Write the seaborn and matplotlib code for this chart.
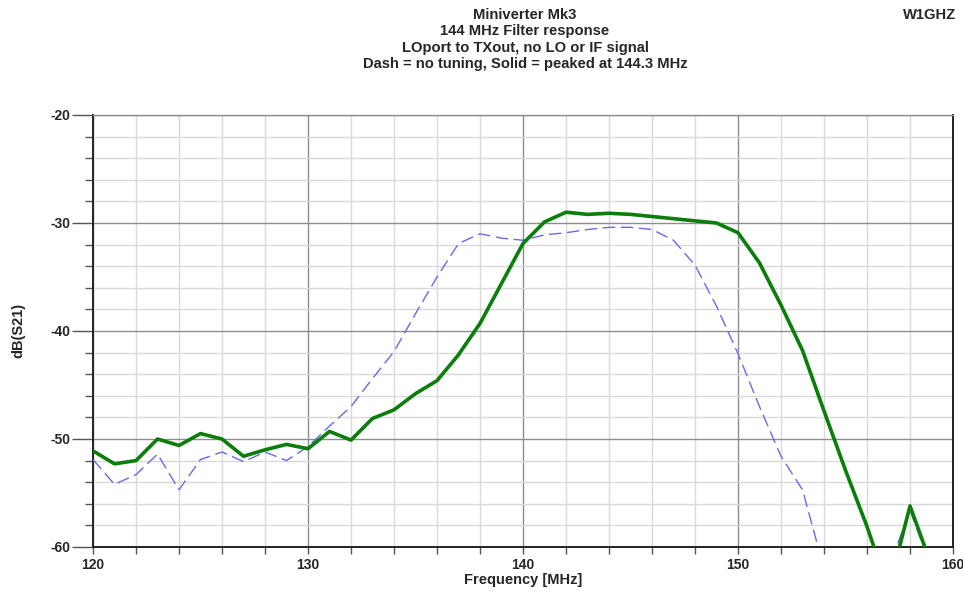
import matplotlib
matplotlib.use("Agg")
import matplotlib.pyplot as plt
from matplotlib.ticker import MultipleLocator
import numpy as np
import pandas as pd
import seaborn as sns

# ---- data ----
freq_mhz = list(range(120, 161))
peaked_db = [-51.1, -52.3, -52.0, -50.0, -50.6, -49.5, -50.0, -51.6, -51.0, -50.5,
             -50.9, -49.3, -50.1, -48.1, -47.3, -45.8, -44.6, -42.2, -39.3, -35.6,
             -31.9, -29.9, -29.0, -29.2, -29.1, -29.2, -29.4, -29.6, -29.8, -30.0,
             -30.9, -33.7, -37.6, -41.8, -47.4, -52.9, -58.1, -64.0, -56.2, -61.7,
             -63.0]
untuned_db = [-51.9, -54.2, -53.3, -51.4, -54.7, -51.9, -51.2, -52.1, -51.2, -52.0,
              -50.7, -48.8, -47.0, -44.4, -41.9, -38.4, -35.0, -31.9, -31.0, -31.4,
              -31.6, -31.1, -30.9, -30.6, -30.4, -30.4, -30.6, -31.6, -33.9, -37.7,
              -42.1, -47.0, -51.6, -54.7, -62.0, -65.0, -67.0, -62.0, -56.6, -62.0,
              -64.0]
x_ticks = [120, 130, 140, 150, 160]
y_ticks = [-60, -50, -40, -30, -20]
title_lines = ["Miniverter Mk3", "144 MHz Filter response",
               "LOport to TXout, no LO or IF signal",
               "Dash = no tuning, Solid = peaked at 144.3 MHz"]

df = pd.DataFrame({"freq": freq_mhz, "peaked": peaked_db, "untuned": untuned_db})

sns.set_style("white")
plt.rcParams["font.family"] = ["Liberation Sans", "DejaVu Sans"]
plt.rcParams["font.weight"] = "bold"
plt.rcParams["axes.unicode_minus"] = False

W, H = 963, 593
fig = plt.figure(figsize=(W / 100, H / 100), dpi=100)
L, R, T, B = 93, 953, 115, 547
ax = fig.add_axes([L / W, 1 - B / H, (R - L) / W, (B - T) / H])

sns.lineplot(data=df, x="freq", y="untuned", ax=ax, color="#6a6ae8", lw=1.0,
             linestyle=(0, (9, 4)), zorder=3)
sns.lineplot(data=df, x="freq", y="peaked", ax=ax, color="#0a7d0a", lw=2.6,
             zorder=4)

ax.set_xlim(120, 160)
ax.set_ylim(-60, -20)
ax.set_xticks(x_ticks)
ax.set_yticks(y_ticks)
ax.xaxis.set_minor_locator(MultipleLocator(2))
ax.yaxis.set_minor_locator(MultipleLocator(2))
ax.set_axisbelow(True)
ax.grid(which="minor", color="#dadada", lw=1.0)
ax.grid(which="major", color="#8e8e8e", lw=1.0)

ax.tick_params(axis="x", which="both", direction="out", length=5, width=1,
               color="#555555", labelsize=10, pad=3)
ax.tick_params(axis="y", which="major", direction="out", length=15, width=1,
               color="#555555", labelsize=10, pad=1)
ax.tick_params(axis="y", which="minor", direction="out", length=6, width=1,
               color="#555555")
ax.tick_params(which="both", bottom=True, left=True)

for s in ["left", "bottom", "right"]:
    ax.spines[s].set_color("#222222")
    ax.spines[s].set_linewidth(1.4)
ax.spines["top"].set_color("#8e8e8e")
ax.spines["top"].set_linewidth(1.0)

ax.set_xlabel("Frequency [MHz]", fontsize=10.5, fontweight="bold")
ax.set_ylabel("dB(S21)", fontsize=10.5, fontweight="bold")
ax.xaxis.set_label_coords((523 - L) / (R - L), -(580 - B) / (B - T))
ax.yaxis.set_label_coords(-(L - 18) / (R - L), (B - 330) / (B - T))
ax.xaxis.label.set_va("center")
ax.yaxis.label.set_va("center")

for i, line in enumerate(title_lines):
    fig.text(525 / W, 1 - (15 + 16.3 * i) / H, line, ha="center", va="center",
             fontsize=10.6, fontweight="bold")
fig.text(930 / W, 1 - 15 / H, "W1GHZ", ha="center", va="center",
         fontsize=10.6, fontweight="bold")

fig.savefig("out.png", dpi=100)
